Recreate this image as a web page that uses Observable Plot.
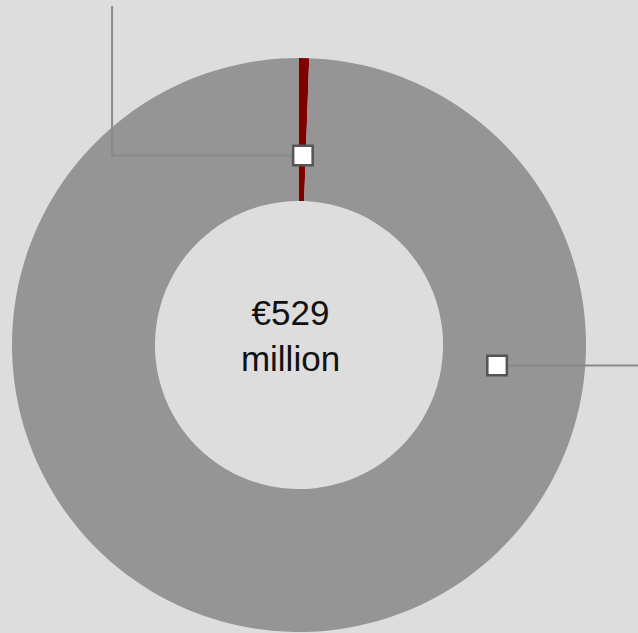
<!DOCTYPE html>
<html>
<head>
<meta charset="utf-8">
<script src="https://cdn.jsdelivr.net/npm/d3@7"></script>
<script src="https://cdn.jsdelivr.net/npm/@observablehq/plot@0.6"></script>
<style>
  html, body { margin: 0; padding: 0; background: #dddddd; overflow: hidden; }
  #chart svg { display: block; }
</style>
</head>
<body>
<div id="chart"></div>
<script>
// ---- data ----
const categories = ["Segment", "Other"];
const values = [3, 526];           // € million
const colors = ["#800000", "#959595"];
const totalLabel = ["€" + d3.sum(values), "million"];

// ---- layout (not data) ----
const innerRatio = 0.502;
const anchorAngleDeg = [null, 95.8];   // null = middle of the slice
const anchorRadius = [0.662, 0.692];

const table = categories.map((c, i) => ({category: c, value: values[i], color: colors[i]}));
const pie = d3.pie().sort(null).value(d => d.value)(table);
const rad = d => d * Math.PI / 180;

const anchors = pie.map((p, i) => {
  const a = anchorAngleDeg[i] == null ? (p.startAngle + p.endAngle) / 2 : rad(anchorAngleDeg[i]);
  return {category: p.data.category, x: anchorRadius[i] * Math.sin(a), y: anchorRadius[i] * Math.cos(a)};
});

// leader lines (in the unit coordinates of the donut)
const leaders = [
  {id: 0, x: anchors[0].x, y: anchors[0].y},
  {id: 0, x: -0.653, y: anchors[0].y},
  {id: 0, x: -0.653, y: 1.18},
  {id: 1, x: anchors[1].x, y: anchors[1].y},
  {id: 1, x: 1.2, y: anchors[1].y}
];

function donut(index, scales) {
  const cx = scales.x(0), cy = scales.y(0);
  const R = scales.x(1) - scales.x(0);
  const arc = d3.arc().outerRadius(R).innerRadius(R * innerRatio);
  const g = d3.create("svg:g").attr("transform", `translate(${cx},${cy})`);
  g.selectAll("path").data(pie).join("path")
    .attr("d", arc)
    .attr("fill", d => d.data.color)
    .attr("stroke", "none");
  return g.node();
}

const chart = Plot.plot({
  width: 638,
  height: 633,
  margin: 0,
  style: {background: "#dddddd", overflow: "visible"},
  x: {domain: [-1, 1], range: [12, 586], axis: null},
  y: {domain: [-1, 1], range: [632, 58], axis: null},
  marks: [
    donut,
    Plot.line(leaders, {x: "x", y: "y", z: "id", stroke: "#8a8a8a", strokeWidth: 2}),
    Plot.dot(anchors, {x: "x", y: "y", symbol: "square", r: 11, fill: "white", stroke: "#555555", strokeWidth: 2.5}),
    Plot.text([totalLabel.join("\n")], {
      x: 0, y: 0, text: d => d, dx: -9, dy: -12,
      fontSize: 35, lineHeight: 1.29, fill: "#111111",
      fontFamily: "Liberation Sans, Arial, sans-serif"
    })
  ]
});
document.getElementById("chart").appendChild(chart);
</script>
</body>
</html>
